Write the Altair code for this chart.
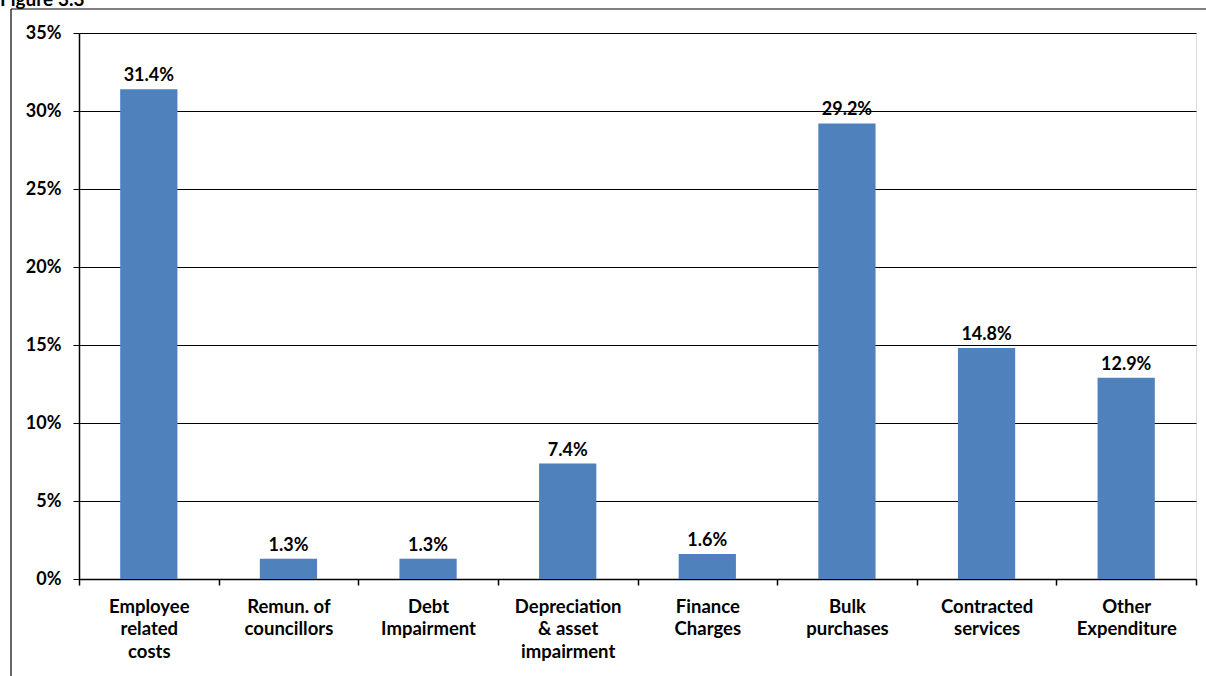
import altair as alt
import pandas as pd

categories = ["Employee|related|costs", "Remun. of|councillors", "Debt|Impairment",
              "Depreciation|& asset|impairment", "Finance|Charges", "Bulk|purchases",
              "Contracted|services", "Other|Expenditure"]
values = [0.314, 0.013, 0.013, 0.074, 0.016, 0.292, 0.148, 0.129]
y_ticks = [0, 0.05, 0.10, 0.15, 0.20, 0.25, 0.30, 0.35]
fig_label = ["Figure 3.3"]

df = pd.DataFrame({"cat": categories, "val": values})
one = pd.DataFrame({"t": fig_label})
FONT = "Lato"

x_enc = alt.X("cat:N", sort=categories, title=None,
              scale=alt.Scale(paddingInner=0, paddingOuter=0),
              axis=alt.Axis(labelExpr="datum.value ? split(datum.value, '|') : ''",
                            labelAngle=0,
                            labelFont=FONT, labelFontSize=18.5, labelFontWeight="bold",
                            labelColor="black", labelLineHeight=22.5, labelPadding=12,
                            tickBand="extent", tickColor="black", tickSize=6,
                            domainColor="black", domainWidth=1.5, tickWidth=1.5,
                            labelBaseline="top"))
y_enc = alt.Y("val:Q", title=None,
              scale=alt.Scale(domain=[0, 0.35], nice=False, zero=True),
              axis=alt.Axis(values=y_ticks, format=".0%", labelFont=FONT,
                            labelFontSize=18, labelFontWeight="bold", labelColor="black",
                            labelPadding=12, grid=True, gridColor="black", gridWidth=1.2,
                            tickColor="black", tickSize=6, domainColor="black",
                            domainWidth=1.5))

bars = alt.Chart(df).mark_bar(color="#4F81BD", width=alt.RelativeBandSize(0.41)).encode(
    x=x_enc, y=y_enc)

labels = alt.Chart(df).mark_text(font=FONT, fontSize=18, fontWeight="bold",
                                 color="black", baseline="alphabetic", dy=-8).encode(
    x=alt.X("cat:N", sort=categories),
    y="val:Q",
    text=alt.Text("val:Q", format=".1%"))

frame_left = alt.Chart(one).mark_rule(color="black", strokeWidth=1.2).encode(
    x=alt.value(-68), y=alt.value(-24), y2=alt.value(650))
frame_top = alt.Chart(one).mark_rule(color="black", strokeWidth=1.2).encode(
    x=alt.value(-68), x2=alt.value(1140), y=alt.value(-24))
fig_title = alt.Chart(one).mark_text(font=FONT, fontSize=19, fontWeight="bold",
                                     color="black", align="left",
                                     baseline="alphabetic").encode(
    x=alt.value(-79), y=alt.value(-27), text="t:N")

chart = alt.layer(bars, labels, frame_left, frame_top, fig_title).properties(
    width=1117, height=546,
    autosize=alt.AutoSizeParams(type="none"),
    padding={"left": 79, "top": 33, "right": 10, "bottom": 97},
).configure_view(stroke=None).configure(background="white")

chart.save("out.html", embed_options={"renderer": "svg", "actions": False})
